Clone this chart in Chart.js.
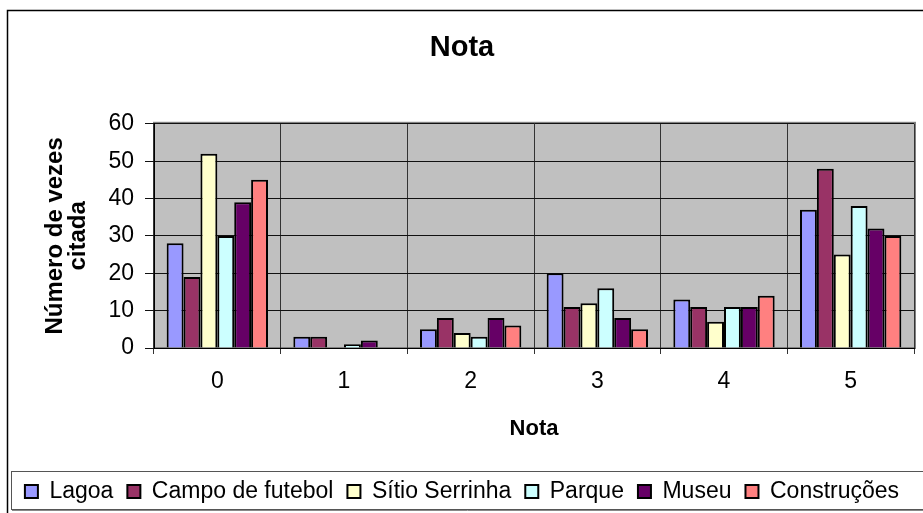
<!DOCTYPE html>
<html>
<head>
<meta charset="utf-8">
<script src="https://cdn.jsdelivr.net/npm/chart.js@4"></script>
<style>
  html, body { margin: 0; padding: 0; background: #fff; }
  #wrap { width: 923px; height: 513px; position: relative; }
</style>
</head>
<body>
<div id="wrap"><canvas id="notaChart"></canvas></div>
<script>
// data
const notas = ["0", "1", "2", "3", "4", "5"];
const lagoa = [28, 3, 5, 20, 13, 37];
const campoFutebol = [19, 3, 8, 11, 11, 48];
const sitioSerrinha = [52, 0, 4, 12, 7, 25];
const parque = [30, 1, 3, 16, 11, 38];
const museu = [39, 2, 8, 8, 11, 32];
const construcoes = [45, 0, 6, 5, 14, 30];

const font = "'Liberation Sans', Arial, sans-serif";

function serie(label, data, color) {
  return {
    label: label,
    data: data,
    backgroundColor: color,
    borderColor: "#000",
    borderWidth: 2,
    categoryPercentage: 0.8,
    barPercentage: 1.0,
  };
}

// gray plot area, outer frame and legend frame (Excel style)
const frames = {
  id: "frames",
  beforeDraw(chart) {
    const c = chart.ctx;
    const a = chart.chartArea;
    c.save();
    c.fillStyle = "#fff";
    c.fillRect(0, 0, chart.width, chart.height);
    c.strokeStyle = "#000";
    c.lineWidth = 1.5;
    c.strokeRect(7.5, 10.5, chart.width + 20, chart.height + 20);
    c.strokeStyle = "#555";
    c.lineWidth = 1;
    c.strokeRect(11.5, 471.5, chart.width + 20, 38);
    c.strokeStyle = "#888";
    c.beginPath();
    c.moveTo(12, 510.5);
    c.lineTo(chart.width, 510.5);
    c.stroke();
    c.fillStyle = "#c0c0c0";
    c.fillRect(a.left, a.top, a.right - a.left, a.bottom - a.top);
    c.strokeStyle = "#808080";
    c.lineWidth = 2;
    c.strokeRect(a.left, a.top - 1, a.right - a.left + 1, a.bottom - a.top + 1);
    c.restore();
  },
};

const ctx = document.getElementById("notaChart").getContext("2d");
new Chart(ctx, {
  type: "bar",
  data: {
    labels: notas,
    datasets: [
      serie("Lagoa", lagoa, "#9999ff"),
      serie("Campo de futebol", campoFutebol, "#993366"),
      serie("Sítio Serrinha", sitioSerrinha, "#ffffcc"),
      serie("Parque", parque, "#ccffff"),
      serie("Museu", museu, "#660066"),
      serie("Construções", construcoes, "#ff8080"),
    ],
  },
  options: {
    responsive: true,
    maintainAspectRatio: false,
    animation: false,
    layout: { padding: { left: 10, right: 9, top: 0, bottom: 0 } },
    plugins: {
      title: {
        display: true,
        text: "Nota",
        color: "#000",
        font: { family: font, size: 29, weight: "bold" },
        padding: { top: 31, bottom: 58 },
      },
      legend: {
        position: "bottom",
        labels: {
          color: "#000",
          font: { family: font, size: 23 },
          boxWidth: 13,
          boxHeight: 13,
          padding: 14,
        },
      },
      tooltip: { enabled: false },
    },
    scales: {
      x: {
        afterFit(scale) { scale.height = 118; },
        grid: { color: "#333", tickLength: 6, offset: true },
        border: { color: "#000", width: 1 },
        ticks: { color: "#000", font: { family: font, size: 23 }, padding: 14 },
        title: {
          display: true,
          text: "Nota",
          color: "#000",
          font: { family: font, size: 22, weight: "bold" },
          padding: { top: 0, bottom: 24 },
        },
      },
      y: {
        min: 0,
        max: 60,
        afterFit(scale) { scale.width = 144; },
        grid: { color: "#111", tickLength: 9 },
        border: { color: "#000", width: 1 },
        ticks: { stepSize: 10, color: "#000", font: { family: font, size: 23 }, padding: 11 },
        title: {
          display: true,
          text: ["Número de vezes", "citada"],
          color: "#000",
          font: { family: font, size: 24, weight: "bold", lineHeight: 0.95 },
          padding: { top: 34, bottom: 0 },
        },
      },
    },
  },
  plugins: [frames],
});
</script>
</body>
</html>
